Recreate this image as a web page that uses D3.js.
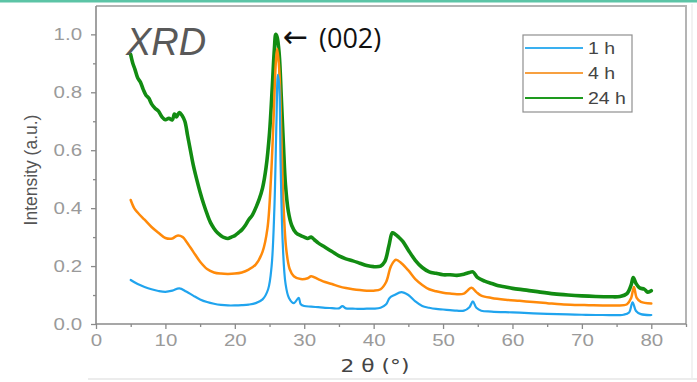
<!DOCTYPE html>
<html><head><meta charset="utf-8">
<script src="https://cdn.jsdelivr.net/npm/d3@7"></script>
<style>body{margin:0;background:#fff}svg{display:block}</style>
</head><body>
<svg id="c" width="697" height="382"></svg>
<script>
const seriesNames = ["1 h", "4 h", "24 h"];
const seriesColors = ["#20a4ee", "#ff8a0a", "#128c12"];
const legendColors = ["#3ab0f0", "#f7a040", "#1e9a1e"];
const xTicks = [0, 10, 20, 30, 40, 50, 60, 70, 80];
const yTicks = [0.0, 0.2, 0.4, 0.6, 0.8, 1.0];

const blue = [[5,0.152],[6,0.138],[7,0.128],[8,0.12],[9,0.114],[10,0.111],[11,0.115],[12,0.123],[13,0.112],[14,0.098],[15,0.085],[16,0.076],[17,0.07],[18,0.066],[19,0.064],[20,0.064],[21,0.065],[22,0.067],[23,0.072],[24,0.085],[24.8,0.12],[25.3,0.2],[25.7,0.4],[26.0,0.7],[26.2,0.86],[26.4,0.82],[26.6,0.55],[26.9,0.28],[27.3,0.14],[27.8,0.09],[28.5,0.072],[29.2,0.09],[29.5,0.068],[30,0.062],[31,0.06],[32,0.058],[33,0.056],[34,0.055],[35,0.054],[35.5,0.062],[36,0.054],[37,0.053],[38,0.052],[39,0.053],[40,0.053],[41,0.056],[41.8,0.068],[42.3,0.09],[43,0.1],[44,0.11],[45,0.1],[46,0.078],[47,0.062],[48,0.056],[49,0.052],[50,0.05],[51,0.048],[52,0.046],[53,0.046],[53.8,0.058],[54.3,0.078],[54.8,0.056],[55.5,0.046],[57,0.043],[60,0.04],[63,0.037],[65,0.035],[68,0.033],[70,0.032],[73,0.031],[76,0.032],[76.8,0.04],[77.3,0.075],[77.8,0.045],[78.5,0.034],[80,0.031]];

const orange = [[5,0.428],[5.5,0.4],[6,0.385],[7,0.36],[8,0.335],[9,0.315],[10,0.297],[11,0.295],[11.7,0.305],[12.5,0.3],[13,0.285],[14,0.25],[15,0.215],[16,0.19],[17,0.178],[18,0.174],[19,0.173],[20,0.174],[21,0.178],[22,0.188],[23,0.205],[24,0.25],[24.7,0.33],[25.2,0.5],[25.6,0.72],[25.9,0.9],[26.1,0.95],[26.4,0.88],[26.7,0.65],[27,0.42],[27.4,0.26],[27.9,0.19],[28.5,0.165],[29.5,0.155],[30.5,0.158],[31,0.165],[32,0.155],[33,0.145],[34,0.138],[35,0.13],[36,0.124],[37,0.12],[38,0.117],[39,0.115],[40,0.115],[41,0.12],[41.8,0.145],[42.5,0.2],[43.2,0.222],[44,0.21],[45,0.185],[46,0.155],[47,0.135],[48,0.12],[49,0.113],[50,0.108],[51,0.105],[52,0.103],[53,0.105],[54.1,0.125],[54.8,0.11],[55.5,0.098],[57,0.09],[59,0.084],[61,0.08],[63,0.076],[65,0.072],[67,0.068],[69,0.066],[71,0.065],[73,0.064],[75,0.064],[76.5,0.068],[77.1,0.09],[77.5,0.128],[77.9,0.09],[78.5,0.076],[80,0.071]];

const green = [[5,0.93],[5.3,0.9],[5.6,0.88],[6,0.85],[6.4,0.835],[6.8,0.81],[7.2,0.79],[7.6,0.78],[8,0.76],[8.5,0.745],[9,0.735],[9.5,0.715],[10,0.705],[10.5,0.71],[11,0.705],[11.3,0.725],[11.6,0.715],[12,0.73],[12.4,0.72],[12.8,0.7],[13.2,0.65],[13.6,0.6],[14,0.55],[14.5,0.5],[15,0.455],[15.5,0.415],[16,0.38],[16.5,0.35],[17,0.33],[17.5,0.315],[18,0.305],[18.5,0.298],[19,0.295],[19.5,0.3],[20,0.305],[20.5,0.315],[21,0.325],[21.5,0.34],[22,0.36],[22.5,0.375],[23,0.4],[23.5,0.43],[24,0.47],[24.5,0.54],[25,0.66],[25.4,0.82],[25.7,0.95],[25.9,1.0],[26.1,0.99],[26.4,0.93],[26.7,0.78],[27,0.62],[27.3,0.48],[27.7,0.39],[28.2,0.34],[28.8,0.315],[29.5,0.305],[30,0.3],[30.5,0.295],[31,0.3],[31.5,0.29],[32,0.28],[33,0.265],[34,0.25],[35,0.235],[36,0.225],[37,0.218],[38,0.21],[39,0.202],[40,0.198],[41,0.2],[41.6,0.215],[42.2,0.27],[42.7,0.315],[43.1,0.31],[43.6,0.3],[44.2,0.285],[45,0.255],[46,0.22],[47,0.195],[48,0.18],[49,0.175],[50,0.17],[51,0.17],[52,0.168],[53,0.172],[53.8,0.178],[54.3,0.18],[55,0.16],[56,0.148],[57,0.14],[58,0.132],[59,0.128],[60,0.123],[62,0.117],[64,0.11],[66,0.104],[68,0.1],[70,0.097],[72,0.095],[74,0.094],[75.5,0.095],[76.5,0.105],[77.1,0.135],[77.4,0.16],[77.8,0.14],[78.3,0.125],[79,0.12],[79.5,0.11],[80,0.115]];

const seriesData = [blue, orange, green];

const svg = d3.select("#c");
const L = 96, R = 686, T = 6, B = 324;
const SX = 1.28; // horizontal stretch of the original chart's text
const x = d3.scaleLinear().domain([0, 85]).range([L, R]);
const y = d3.scaleLinear().domain([0, 1.0979]).range([B, T]);

// decorative slide strips
svg.append("rect").attr("x",0).attr("y",0).attr("width",697).attr("height",2.5).attr("fill","#5cc4a6");
svg.append("line").attr("x1",88).attr("x2",697).attr("y1",379).attr("y2",379).attr("stroke","#e6e6e6").attr("stroke-width",1.5);
svg.append("line").attr("x1",692).attr("x2",692).attr("y1",4).attr("y2",380).attr("stroke","#eeeeee").attr("stroke-width",1.5);

// frame top & right
svg.append("path").attr("d",`M${L},${T}H${R}V${B}`).attr("fill","none").attr("stroke","#b4b4b4").attr("stroke-width",2);

// axes
const gx = svg.append("g").attr("transform",`translate(0,${B})`)
  .call(d3.axisBottom(x).tickValues(xTicks).tickSize(5).tickPadding(6).tickFormat(d3.format("d")));
const gxm = svg.append("g").attr("transform",`translate(0,${B})`)
  .call(d3.axisBottom(x).tickValues(d3.range(5, 90, 10)).tickSize(3).tickFormat(""));
const gy = svg.append("g").attr("transform",`translate(${L},0)`)
  .call(d3.axisLeft(y).tickValues(yTicks).tickSize(5).tickPadding(7).tickFormat(d3.format(".1f")));
const gym = svg.append("g").attr("transform",`translate(${L},0)`)
  .call(d3.axisLeft(y).tickValues([0.1,0.3,0.5,0.7,0.9]).tickSize(3).tickFormat(""));
[gx,gxm,gy,gym].forEach(g=>{
  g.select(".domain").attr("stroke","#8a8a8a").attr("stroke-width",1.6);
  g.selectAll(".tick line").attr("stroke","#8a8a8a").attr("stroke-width",1.3);
  g.selectAll("text").attr("fill","#9a9a9a").style("font-family","'Liberation Sans', Arial, sans-serif").style("font-size","16px");
});
gx.selectAll(".tick text").attr("transform",`scale(${SX},1)`);
gy.selectAll(".tick text").attr("x",-14/SX).attr("transform",`scale(${SX},1)`);
gy.select(".domain").attr("d",`M0,${B}V${T}`);
gx.select(".domain").attr("d",`M${L},0H${R}`);
gxm.select(".domain").remove();
gym.select(".domain").remove();

// lines (green first so others are on top)
const line = d3.line().x(d=>x(d[0])).y(d=>y(d[1])).curve(d3.curveCatmullRom.alpha(0.5));
const widths = [2.2, 2.5, 3.6];
[2,1,0].forEach(i=>{
  svg.append("path").datum(seriesData[i]).attr("d",line)
    .attr("fill","none").attr("stroke",seriesColors[i]).attr("stroke-width",widths[i])
    .attr("stroke-linejoin","round").attr("stroke-linecap","round");
});

// axis titles
svg.append("text").attr("transform","translate(37,170) rotate(-90)").attr("text-anchor","middle")
  .style("font-family","'Liberation Sans', Arial, sans-serif").style("font-size","17.5px").attr("fill","#555")
  .text("Intensity (a.u.)");
svg.append("text").attr("transform",`translate(375,372) scale(${SX},1)`).attr("text-anchor","middle")
  .style("font-family","'DejaVu Sans', sans-serif").style("font-size","17px").attr("fill","#444")
  .text("2 θ (°)");

// annotations
svg.append("text").attr("x",126).attr("y",55)
  .style("font-family","'Liberation Sans', Arial, sans-serif").style("font-size","38px").style("font-style","italic")
  .attr("fill","#595959").text("XRD");
svg.append("text").attr("x",283).attr("y",47)
  .style("font-family","'Noto Sans', 'DejaVu Sans', sans-serif").style("font-size","30px")
  .attr("fill","#111").text("←");
svg.append("text").attr("x",319).attr("y",48)
  .style("font-family","'Open Sans', 'Noto Sans', sans-serif").style("font-size","27px")
  .attr("fill","#111").text("(002)");

// legend
const lg = svg.append("g");
lg.append("rect").attr("x",523).attr("y",35).attr("width",109).attr("height",77)
  .attr("fill","#fff").attr("stroke","#8f8f8f").attr("stroke-width",1.2);
seriesNames.forEach((n,i)=>{
  const yy = 48 + i*25;
  lg.append("line").attr("x1",525).attr("x2",583).attr("y1",yy).attr("y2",yy)
    .attr("stroke",legendColors[i]).attr("stroke-width",2.2);
  lg.append("text").attr("transform",`translate(588,${yy+6}) scale(1.22,1)`)
    .style("font-family","'Liberation Sans', Arial, sans-serif").style("font-size","16px")
    .attr("fill","#444").text(n);
});
</script>
</body></html>
